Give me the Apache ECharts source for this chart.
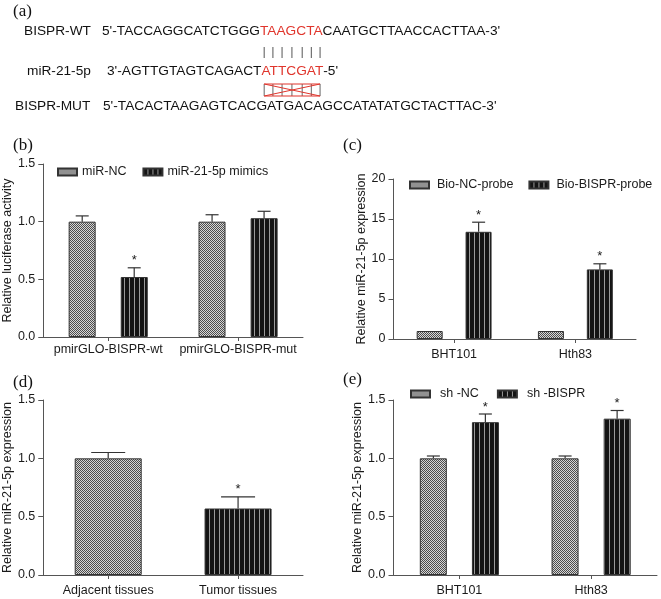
<!DOCTYPE html>
<html><head><meta charset="utf-8">
<script src="https://cdn.jsdelivr.net/npm/echarts@6/dist/echarts.min.js"></script>
<style>html,body{margin:0;padding:0;background:#fff}#c{width:661px;height:599px}</style>
</head><body><div id="c"></div>
<script>
// ---------- Panel (a): sequences ----------
const seqLabels = ['BISPR-WT', 'miR-21-5p', 'BISPR-MUT'];
const seqParts = [
  ["5'-TACCAGGCATCTGGG", 'TAAGCTA', "CAATGCTTAACCACTTAA-3'"],
  ["3'-AGTTGTAGTCAGACT", 'ATTCGAT', "-5'"],
  ["5'-TACACTAAGAGTCACGATGACAGCCATATATGCTACTTAC-3'", '', '']
];
// ---------- Panel (b) ----------
const catB = ['pmirGLO-BISPR-wt', 'pmirGLO-BISPR-mut'];
const namesB = ['miR-NC', 'miR-21-5p mimics'];
const bNC = [1.00, 1.00];
const bNCErr = [0.05, 0.06];
const bNCSig = [0, 0];
const bMim = [0.52, 1.03];
const bMimErr = [0.08, 0.06];
const bMimSig = [1, 0];
const yTicksB = ['0.0', '0.5', '1.0', '1.5'];
// ---------- Panel (c) ----------
const catC = ['BHT101', 'Hth83'];
const namesC = ['Bio-NC-probe', 'Bio-BISPR-probe'];
const cNC = [1, 1];
const cNCErr = [0, 0];
const cNCSig = [0, 0];
const cBis = [13.4, 8.7];
const cBisErr = [1.2, 0.7];
const cBisSig = [1, 1];
const yTicksC = ['0', '5', '10', '15', '20'];
// ---------- Panel (d) ----------
const catD = ['Adjacent tissues', 'Tumor tissues'];
const dVal = [1.00, 0.57];
const dErr = [0.05, 0.10];
const dSig = [0, 1];
const yTicksD = ['0.0', '0.5', '1.0', '1.5'];
// ---------- Panel (e) ----------
const catE = ['BHT101', 'Hth83'];
const namesE = ['sh -NC', 'sh -BISPR'];
const eNC = [1.00, 1.00];
const eNCErr = [0.02, 0.02];
const eNCSig = [0, 0];
const eSh = [1.31, 1.34];
const eShErr = [0.07, 0.07];
const eShSig = [1, 1];
const yTicksE = ['0.0', '0.5', '1.0', '1.5'];

// ---------- patterns ----------
function makeChecker() {
  const c = document.createElement('canvas'); c.width = 2; c.height = 2;
  const g = c.getContext('2d');
  g.fillStyle = '#d6d6d6'; g.fillRect(0, 0, 2, 2);
  g.fillStyle = '#4c4c4c'; g.fillRect(0, 0, 1, 1); g.fillRect(1, 1, 1, 1);
  return {image: c, repeat: 'repeat'};
}
function makeStripe() {
  const c = document.createElement('canvas'); c.width = 5; c.height = 2;
  const g = c.getContext('2d');
  g.fillStyle = '#141414'; g.fillRect(0, 0, 5, 2);
  g.fillStyle = '#9a9a9a'; g.fillRect(4, 0, 1, 2);
  return {image: c, repeat: 'repeat'};
}
const checker = makeChecker();
const stripe = makeStripe();

const FONT = 'Arial, "Liberation Sans", sans-serif';
const SERIF = '"Times New Roman", "Liberation Serif", serif';
const AX = '#555';
const TXT = '#1a1a1a';
const FS = 12.5;

function yAxis(gi, max, interval, ticks, name, nameGap) {
  return {
    type: 'value', gridIndex: gi, min: 0, max: max, interval: interval,
    name: name, nameLocation: 'middle', nameGap: nameGap,
    nameTextStyle: {fontSize: FS, color: TXT, fontFamily: FONT},
    axisLine: {show: true, lineStyle: {color: AX, width: 1}},
    axisTick: {show: true, length: 5, lineStyle: {color: AX}},
    axisLabel: {fontSize: FS, color: TXT, fontFamily: FONT, margin: 8,
      formatter: v => ticks[Math.round(v / interval)]},
    splitLine: {show: false}
  };
}
function xAxis(gi, cats, margin) {
  return {
    type: 'category', gridIndex: gi, data: cats,
    axisLine: {show: true, lineStyle: {color: AX, width: 1}},
    axisTick: {show: true, alignWithLabel: true, length: 4, lineStyle: {color: AX}},
    axisLabel: {fontSize: FS, color: TXT, fontFamily: FONT, margin: margin, interval: 0}
  };
}
function barSeries(gi, name, vals, color, w, gap) {
  return {
    type: 'bar', name: name, xAxisIndex: gi, yAxisIndex: gi, data: vals,
    barWidth: w, barGap: gap, z: 2,
    itemStyle: {color: color, borderColor: '#333', borderWidth: 1}
  };
}
function errSeries(gi, vals, errs, sigs, offsetPx, capW) {
  return {
    type: 'custom', xAxisIndex: gi, yAxisIndex: gi, z: 5, silent: true,
    data: vals.map((v, i) => [i, v, errs[i], sigs[i]]),
    encode: {x: 0, y: 1},
    renderItem: function (params, api) {
      const cat = api.value(0), v = api.value(1), e = api.value(2), sig = api.value(3);
      const p0 = api.coord([cat, v]);
      const p1 = api.coord([cat, v + e]);
      const x = p0[0] + offsetPx;
      const ch = [];
      if (e > 0) {
        ch.push({type: 'line', shape: {x1: x, y1: p0[1], x2: x, y2: p1[1]}, style: {stroke: '#333', lineWidth: 1.2}});
        ch.push({type: 'line', shape: {x1: x - capW / 2, y1: p1[1], x2: x + capW / 2, y2: p1[1]}, style: {stroke: '#333', lineWidth: 1.2}});
      }
      if (sig) {
        ch.push({type: 'text', style: {text: '*', x: x, y: p1[1] - 7, align: 'center', verticalAlign: 'middle',
          textAlign: 'center', textVerticalAlign: 'middle', font: '13px ' + FONT, fill: TXT}});
      }
      return {type: 'group', children: ch};
    }
  };
}
function legend(names, left, top, gap, extraPad) {
  return {
    data: names, left: left, top: top, width: 600, orient: 'horizontal', padding: 0,
    itemWidth: 19, itemHeight: 7, itemGap: gap, icon: 'rect',
    textStyle: {fontSize: FS, color: TXT, fontFamily: FONT, lineHeight: 14, padding: [0, 0, 0, extraPad]},
    selectedMode: false
  };
}

// ---------- panel (a) graphics ----------
const mc = document.createElement('canvas').getContext('2d');
const SEQF = '13.7px ' + FONT;
mc.font = SEQF;
const RED = '#e0352c';
const rowY = [31, 71, 106];
const labelX = [24, 27, 15];
const seqX = [102, 107, 103];
const gfx = [];
const matchX = [];
seqLabels.forEach((lab, r) => {
  gfx.push({type: 'text', x: labelX[r], y: rowY[r], style: {text: lab, font: SEQF, fill: '#111', textVerticalAlign: 'middle'}});
  let x = seqX[r];
  seqParts[r].forEach((part, k) => {
    if (!part) return;
    gfx.push({type: 'text', x: x, y: rowY[r], style: {text: part, font: SEQF, fill: k === 1 ? RED : '#111', textVerticalAlign: 'middle'}});
    if (r === 0 && k === 1) {
      let cx = x;
      for (const chr of part) { const w = mc.measureText(chr).width; matchX.push(cx + w / 2); cx += w; }
    }
    x += mc.measureText(part).width;
  });
});
matchX.forEach(x => {
  gfx.push({type: 'line', shape: {x1: x, y1: 47, x2: x, y2: 58}, style: {stroke: '#555', lineWidth: 1}});
  gfx.push({type: 'line', shape: {x1: x, y1: 84, x2: x, y2: 96}, style: {stroke: '#666', lineWidth: 1}});
});
const xa = matchX[0], xb = matchX[matchX.length - 1];
[[xa, 84, xb, 84], [xa, 96, xb, 96], [xa, 84, xb, 96], [xa, 96, xb, 84]].forEach(s => {
  gfx.push({type: 'line', shape: {x1: s[0], y1: s[1], x2: s[2], y2: s[3]}, style: {stroke: RED, lineWidth: 1}});
});
[['(a)', 13, 12], ['(b)', 13, 146], ['(c)', 343, 146], ['(d)', 13, 383], ['(e)', 343, 380]].forEach(t => {
  gfx.push({type: 'text', x: t[1], y: t[2], style: {text: t[0], font: '17px ' + SERIF, fill: '#111', textVerticalAlign: 'middle'}});
});

const option = {
  animation: false,
  backgroundColor: '#fff',
  textStyle: {fontFamily: FONT},
  grid: [
    {left: 42, top: 164, width: 261, height: 173},
    {left: 393.5, top: 179, width: 242.5, height: 160},
    {left: 41, top: 400, width: 262, height: 175},
    {left: 393.5, top: 400, width: 263.5, height: 175}
  ],
  xAxis: [xAxis(0, catB, 6), xAxis(1, catC, 9), xAxis(2, catD, 9), xAxis(3, catE, 9)],
  yAxis: [
    yAxis(0, 1.5, 0.5, yTicksB, 'Relative luciferase activity', 23),
    yAxis(1, 20, 5, yTicksC, 'Relative miR-21-5p expression', 18),
    yAxis(2, 1.5, 0.5, yTicksD, 'Relative miR-21-5p expression', 25),
    yAxis(3, 1.5, 0.5, yTicksE, 'Relative miR-21-5p expression', 22)
  ],
  legend: [
    legend(namesB, 57, 165, 16, 0),
    legend(namesC, 409, 178, 15, 3),
    legend(namesE, 410, 387, 18, 5)
  ],
  series: [
    barSeries(0, namesB[0], bNC, checker, 27, '93%'),
    barSeries(0, namesB[1], bMim, stripe, 27, '93%'),
    errSeries(0, bNC, bNCErr, bNCSig, -26, 13),
    errSeries(0, bMim, bMimErr, bMimSig, 26, 13),

    barSeries(1, namesC[0], cNC, checker, 26, '88%'),
    barSeries(1, namesC[1], cBis, stripe, 26, '88%'),
    errSeries(1, cNC, cNCErr, cNCSig, -24.5, 13),
    errSeries(1, cBis, cBisErr, cBisSig, 24.5, 13),

    {
      type: 'bar', name: 'tissues', xAxisIndex: 2, yAxisIndex: 2, barWidth: 67, z: 2,
      data: dVal.map((v, i) => ({value: v, itemStyle: {color: i === 0 ? checker : stripe}})),
      itemStyle: {borderColor: '#333', borderWidth: 1}
    },
    errSeries(2, dVal, dErr, dSig, 0, 34),

    barSeries(3, namesE[0], eNC, checker, 27, '93%'),
    barSeries(3, namesE[1], eSh, stripe, 27, '93%'),
    errSeries(3, eNC, eNCErr, eNCSig, -26, 13),
    errSeries(3, eSh, eShErr, eShSig, 26, 13)
  ],
  graphic: {elements: gfx}
};
const chart = echarts.init(document.getElementById('c'), null, {renderer: 'canvas'});
chart.setOption(option);
</script></body></html>
